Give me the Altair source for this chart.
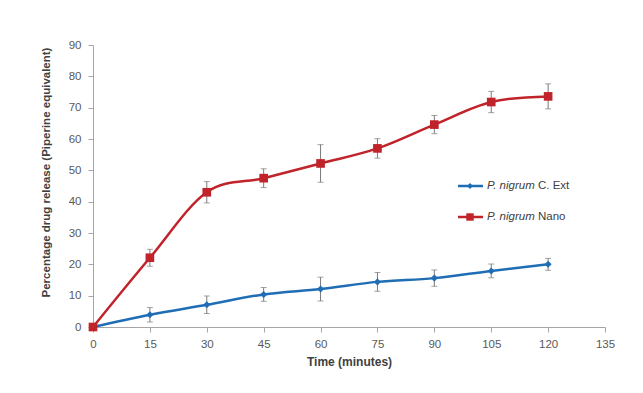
import altair as alt
import pandas as pd

time = [0, 15, 30, 45, 60, 75, 90, 105, 120]
ext_mean = [0, 3.9, 7.1, 10.4, 12.1, 14.4, 15.6, 17.9, 20.0]
ext_err = [0, 2.3, 2.8, 2.2, 3.8, 3.0, 2.6, 2.2, 1.9]
nano_mean = [0, 22.1, 43.0, 47.5, 52.2, 57.0, 64.6, 71.8, 73.6]
nano_err = [0, 2.7, 3.4, 3.0, 6.0, 3.1, 2.9, 3.4, 4.0]
legend_italic = ["P. nigrum", "P. nigrum"]
legend_rest = ["C. Ext", "Nano"]
x_ticks = list(range(0, 136, 15))
y_ticks = list(range(0, 91, 10))

FONT = "Liberation Sans"
BLUE = "#1f6db5"
RED = "#c0232a"
ERR = "#7a7a7a"


def frame(mean, err):
    return pd.DataFrame({
        "t": time, "v": mean,
        "lo": [m - e for m, e in zip(mean, err)],
        "hi": [m + e for m, e in zip(mean, err)],
        "e": err,
    })


xs = alt.Scale(domain=[0, 135], nice=False)
ys = alt.Scale(domain=[0, 90], nice=False)
xax = alt.Axis(values=x_ticks, title="Time (minutes)", labelFlush=False,
               labelOverlap=False, titleFontSize=12, labelPadding=6, titlePadding=7)
yax = alt.Axis(values=y_ticks, title="Percentage drug release (Piperine equivalent)",
               labelFlush=False, labelOverlap=False, titleFontSize=11.5, labelPadding=7,
               titleX=-47, titleY=127, titleBaseline="middle", titleAlign="center",
               titleAngle=270)


def X(f):
    return alt.X(f, type="quantitative", scale=xs, axis=xax)


def Y(f):
    return alt.Y(f, type="quantitative", scale=ys, axis=yax)


def series(df, color, shape, size):
    base = alt.Chart(df)
    eb = base.transform_filter("datum.e > 0")
    line = base.mark_line(color=color, strokeWidth=2.5, interpolate="cardinal").encode(
        x=X("t"), y=Y("v"))
    rule = eb.mark_rule(color=ERR, strokeWidth=1).encode(x=X("t"), y=Y("lo"), y2="hi:Q")
    cap_lo = eb.mark_tick(color=ERR, orient="horizontal", size=6, thickness=1).encode(
        x=X("t"), y=Y("lo"))
    cap_hi = eb.mark_tick(color=ERR, orient="horizontal", size=6, thickness=1).encode(
        x=X("t"), y=Y("hi"))
    pts = base.mark_point(filled=True, color=color, shape=shape, size=size, opacity=1).encode(
        x=X("t"), y=Y("v"))
    return [line, rule, cap_lo, cap_hi, pts]


ext = series(frame(ext_mean, ext_err), BLUE, "diamond", 50)
nano = series(frame(nano_mean, nano_err), RED, "square", 75)

dummy = pd.DataFrame({"a": [0]})


def legend_entry(i, yp, color, shape, size):
    d = alt.Chart(dummy)
    ln = d.mark_rule(color=color, strokeWidth=2.5).encode(
        x=alt.value(365), x2=alt.value(390), y=alt.value(yp))
    pt = d.mark_point(filled=True, color=color, shape=shape, size=size, opacity=1).encode(
        x=alt.value(377), y=alt.value(yp))
    t1 = d.mark_text(align="left", baseline="middle", font=FONT, fontSize=11.5,
                     fontStyle="italic", color="#404040").encode(
        x=alt.value(394), y=alt.value(yp), text=alt.value(legend_italic[i]))
    t2 = d.mark_text(align="left", baseline="middle", font=FONT, fontSize=11.5,
                     color="#404040").encode(
        x=alt.value(445), y=alt.value(yp), text=alt.value(legend_rest[i]))
    return [ln, pt, t1, t2]


leg = legend_entry(0, 141, BLUE, "diamond", 35) + legend_entry(1, 172, RED, "square", 55)

chart = alt.layer(*(ext + nano + leg)).properties(
    width=512, height=282,
    autosize=alt.AutoSizeParams(type="none"),
    padding={"left": 85, "top": 37, "right": 30, "bottom": 58},
    background="white",
).configure_view(stroke=None).configure_axis(
    grid=False,
    domainColor="#a6a6a6", tickColor="#a6a6a6", tickSize=5,
    labelColor="#595959", labelFont=FONT, labelFontSize=11.5,
    titleFont=FONT, titleFontWeight="bold", titleColor="#404040",
)

chart.save("out.html", embed_options={"renderer": "svg", "actions": False})
